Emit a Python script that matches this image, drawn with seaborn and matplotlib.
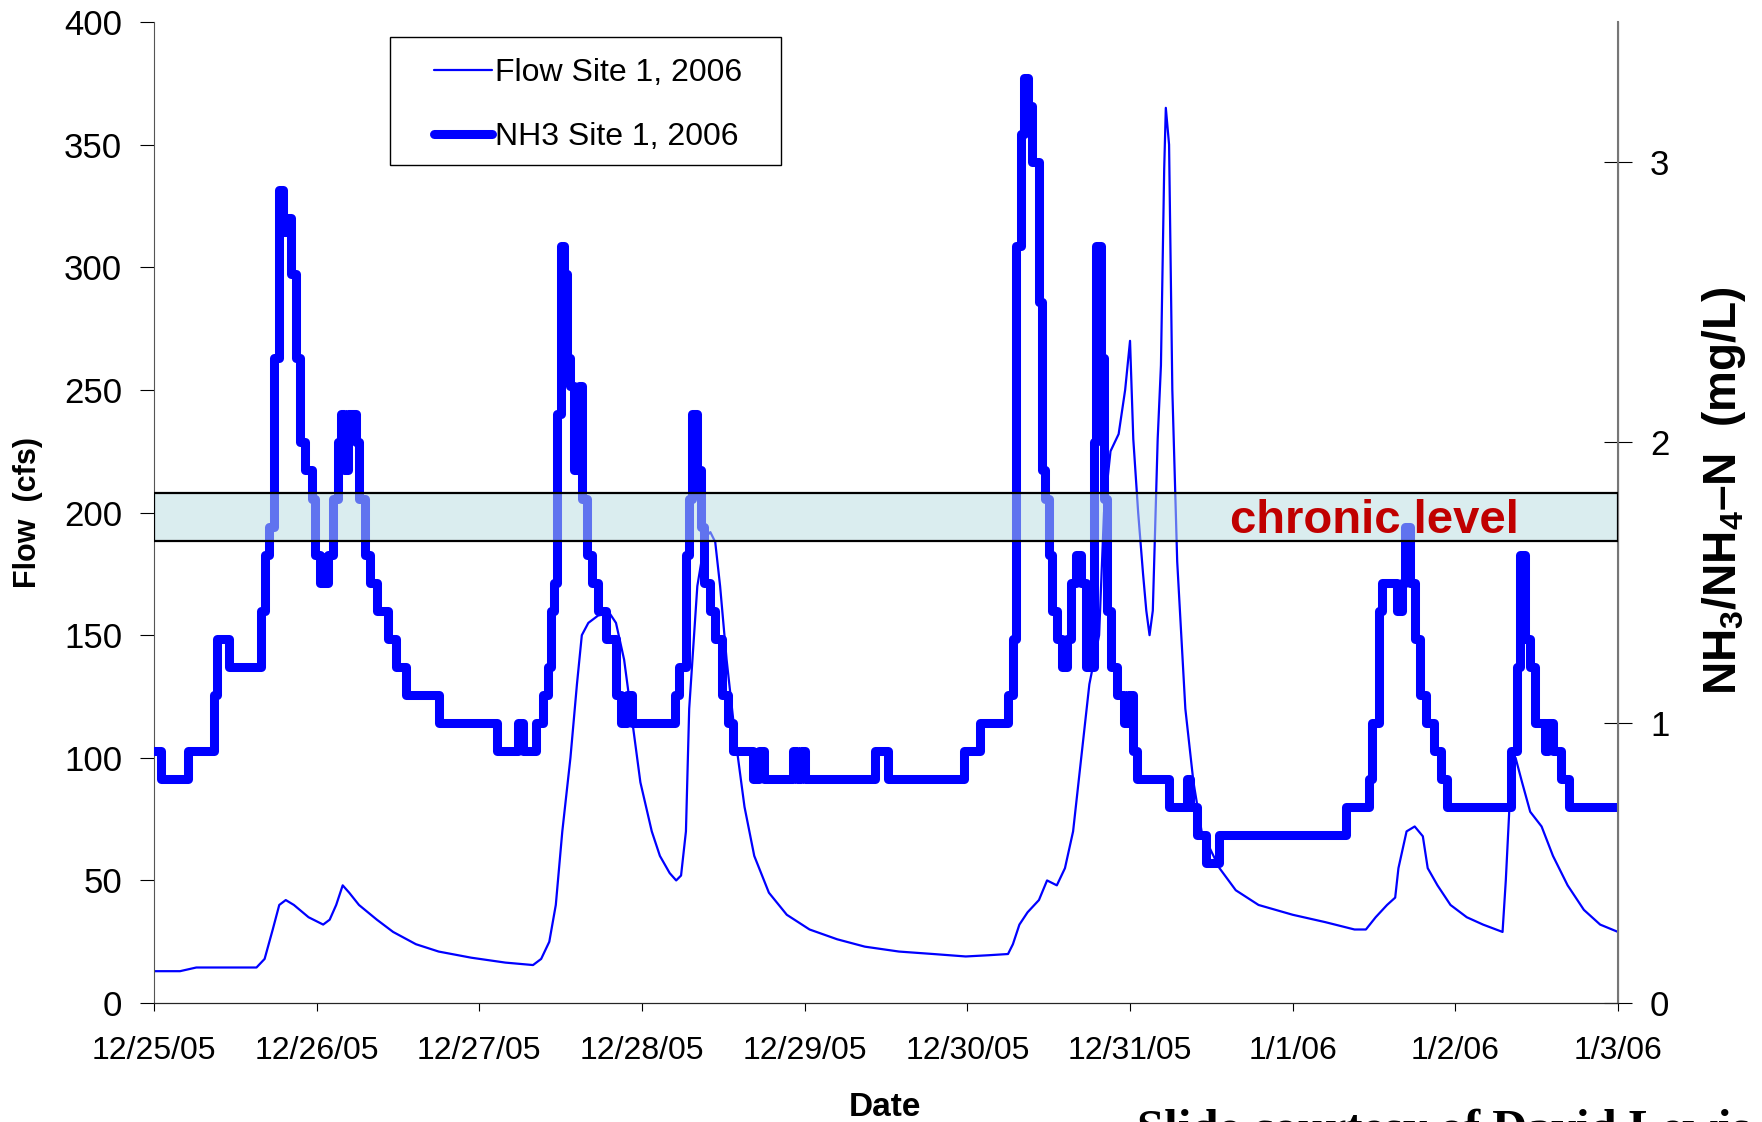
import pandas as pd
import matplotlib.pyplot as plt
import seaborn as sns
from matplotlib.patches import Rectangle

# days after 12/25/05 00:00
flow_day = [0.00, 0.16, 0.26, 0.63, 0.68, 0.73, 0.77, 0.81, 0.86, 0.95,
            1.04, 1.08, 1.12, 1.16, 1.20, 1.26, 1.37, 1.47, 1.61, 1.75,
            1.95, 2.16, 2.33, 2.38, 2.43, 2.47, 2.51, 2.56, 2.60, 2.63,
            2.67, 2.73, 2.80, 2.84, 2.89, 2.94, 2.99, 3.06, 3.11, 3.17,
            3.21, 3.24, 3.27, 3.29, 3.34, 3.39, 3.42, 3.45, 3.48, 3.52,
            3.57, 3.63, 3.69, 3.78, 3.89, 4.03, 4.20, 4.37, 4.58, 4.79,
            4.99, 5.13, 5.25, 5.28, 5.32, 5.37, 5.44, 5.49, 5.55, 5.60,
            5.65, 5.70, 5.75, 5.81, 5.84, 5.88, 5.93, 5.97, 6.00, 6.02,
            6.05, 6.08, 6.10, 6.12, 6.14, 6.17, 6.19, 6.21, 6.22, 6.24,
            6.26, 6.29, 6.34, 6.39, 6.44, 6.55, 6.65, 6.79, 7.00, 7.20,
            7.38, 7.45, 7.51, 7.58, 7.63, 7.65, 7.70, 7.75, 7.80, 7.83,
            7.89, 7.97, 8.07, 8.17, 8.29, 8.31, 8.34, 8.37, 8.41, 8.46,
            8.53, 8.60, 8.69, 8.79, 8.89, 9.00]
flow_cfs = [13, 13, 14.5, 14.5, 18, 30, 40, 42, 40, 35,
            32, 34, 40, 48, 45, 40, 34, 29, 24, 21,
            18.5, 16.5, 15.5, 18, 25, 40, 70, 100, 130, 150,
            155, 158, 159, 155, 140, 115, 90, 70, 60, 53,
            50, 52, 70, 120, 170, 190, 192, 188, 170, 140,
            110, 80, 60, 45, 36, 30, 26, 23, 21, 20,
            19, 19.5, 20, 24, 32, 37, 42, 50, 48, 55,
            70, 100, 130, 150, 200, 225, 232, 250, 270, 230,
            200, 175, 160, 150, 160, 230, 260, 340, 365, 350,
            250, 180, 120, 90, 70, 55, 46, 40, 36, 33,
            30, 30, 35, 40, 43, 55, 70, 72, 68, 55,
            48, 40, 35, 32, 29, 50, 90, 100, 90, 78,
            72, 60, 48, 38, 32, 29]

nh3_day = [0.00, 0.04, 0.21, 0.37, 0.39, 0.46, 0.66, 0.68, 0.71, 0.74,
           0.77, 0.79, 0.81, 0.84, 0.87, 0.90, 0.93, 0.97, 0.99, 1.02,
           1.07, 1.10, 1.13, 1.15, 1.17, 1.19, 1.24, 1.26, 1.30, 1.33,
           1.37, 1.44, 1.49, 1.55, 1.75, 2.11, 2.24, 2.27, 2.35, 2.39,
           2.42, 2.44, 2.46, 2.48, 2.50, 2.52, 2.54, 2.56, 2.58, 2.61,
           2.63, 2.66, 2.69, 2.73, 2.78, 2.84, 2.87, 2.91, 2.94, 3.20,
           3.23, 3.27, 3.29, 3.31, 3.34, 3.36, 3.38, 3.42, 3.45, 3.49,
           3.53, 3.56, 3.68, 3.72, 3.75, 3.93, 3.95, 3.98, 4.00, 4.43,
           4.51, 4.98, 5.08, 5.25, 5.28, 5.30, 5.33, 5.35, 5.37, 5.40,
           5.44, 5.46, 5.48, 5.50, 5.52, 5.55, 5.58, 5.61, 5.64, 5.67,
           5.70, 5.73, 5.78, 5.79, 5.82, 5.84, 5.86, 5.88, 5.92, 5.96,
           5.99, 6.02, 6.04, 6.24, 6.35, 6.37, 6.41, 6.47, 6.55, 7.33,
           7.47, 7.49, 7.53, 7.55, 7.64, 7.67, 7.69, 7.72, 7.75, 7.78,
           7.82, 7.87, 7.91, 7.95, 8.34, 8.38, 8.40, 8.43, 8.46, 8.49,
           8.55, 8.57, 8.60, 8.65, 8.70, 9.00]
nh3_mgl = [0.9, 0.8, 0.9, 1.1, 1.3, 1.2, 1.4, 1.6, 1.7, 2.3,
           2.9, 2.75, 2.8, 2.6, 2.3, 2.0, 1.9, 1.8, 1.6, 1.5,
           1.6, 1.8, 2.0, 2.1, 1.9, 2.1, 2.0, 1.8, 1.6, 1.5,
           1.4, 1.3, 1.2, 1.1, 1.0, 0.9, 1.0, 0.9, 1.0, 1.1,
           1.2, 1.4, 1.5, 2.1, 2.7, 2.6, 2.3, 2.2, 1.9, 2.2,
           1.8, 1.6, 1.5, 1.4, 1.3, 1.1, 1.0, 1.1, 1.0, 1.1,
           1.2, 1.6, 1.8, 2.1, 1.9, 1.7, 1.5, 1.4, 1.3, 1.1,
           1.0, 0.9, 0.8, 0.9, 0.8, 0.9, 0.8, 0.9, 0.8, 0.9,
           0.8, 0.9, 1.0, 1.1, 1.3, 2.7, 3.1, 3.3, 3.2, 3.0,
           2.5, 1.9, 1.8, 1.6, 1.4, 1.3, 1.2, 1.3, 1.5, 1.6,
           1.5, 1.2, 2.0, 2.7, 2.3, 1.8, 1.4, 1.2, 1.1, 1.0,
           1.1, 0.9, 0.8, 0.7, 0.8, 0.7, 0.6, 0.5, 0.6, 0.7,
           0.8, 1.0, 1.4, 1.5, 1.4, 1.5, 1.7, 1.5, 1.3, 1.1,
           1.0, 0.9, 0.8, 0.7, 0.9, 1.2, 1.6, 1.3, 1.2, 1.0,
           0.9, 1.0, 0.9, 0.8, 0.7, 0.7]

date_labels = ['12/25/05', '12/26/05', '12/27/05', '12/28/05', '12/29/05',
               '12/30/05', '12/31/05', '1/1/06', '1/2/06', '1/3/06']
series_labels = ['Flow Site 1, 2006', 'NH3 Site 1, 2006']
chronic_low, chronic_high = 1.65, 1.82

sns.set_style('ticks')
plt.rcParams['font.family'] = ['Liberation Sans', 'DejaVu Sans']
plt.rcParams['text.color'] = 'black'
plt.rcParams['axes.labelcolor'] = 'black'
plt.rcParams['xtick.color'] = 'black'
plt.rcParams['ytick.color'] = 'black'
plt.rcParams['mathtext.fontset'] = 'custom'
plt.rcParams['mathtext.rm'] = 'Liberation Sans:bold'
plt.rcParams['mathtext.default'] = 'rm'

flow = pd.DataFrame({'day': flow_day, 'flow': flow_cfs})
nh3 = pd.DataFrame({'day': nh3_day, 'nh3': nh3_mgl})

fig = plt.figure(figsize=(17.62, 11.22), dpi=100)
ax = fig.add_axes([0.0874, 0.106, 0.8309, 0.8744])
ax2 = ax.twinx()

sns.lineplot(data=flow, x='day', y='flow', ax=ax, color='#0000ff',
             lw=1.6, estimator=None)
sns.lineplot(data=nh3, x='day', y='nh3', ax=ax2, color='#0000ff',
             lw=6.5, drawstyle='steps-post', estimator=None)

# chronic band drawn over the lines, semi transparent
ax2.axhspan(chronic_low, chronic_high, facecolor=(185/255, 221/255, 226/255, 0.52),
            edgecolor='black', lw=1.6, zorder=5)
ax2.text(7.5, 1.677, 'chronic level', color='#C00000', fontsize=34,
         fontweight='bold', ha='center', va='baseline', zorder=6)

ax.set_xlim(0, 9)
ax.set_ylim(0, 400)
ax.set_yticks(range(0, 401, 50))
ax.set_xticks(range(10))
ax.set_xticklabels(date_labels)
ax2.set_ylim(0, 3.5)
ax2.set_yticks([0, 1, 2, 3])

ax.tick_params(axis='y', direction='out', length=10, labelsize=25, pad=13)
ax.tick_params(axis='x', direction='out', length=6, labelsize=23, pad=18)
ax2.tick_params(axis='y', direction='inout', length=20, labelsize=25, pad=13)

for a in (ax, ax2):
    a.spines['top'].set_visible(False)
ax.spines['left'].set_color('#555555')
ax2.spines['left'].set_visible(False)
ax2.spines['right'].set_color('#777777')
ax2.spines['right'].set_linewidth(1.5)
ax.spines['bottom'].set_color('black')

ax.set_ylabel('Flow  (cfs)', fontsize=22, fontweight='bold')
ax.yaxis.set_label_coords(-0.076, 0.5)
ax.set_xlabel('Date', fontsize=24, fontweight='bold')
ax.xaxis.set_label_coords(0.4993, -0.091)
ax2.set_ylabel(r'NH$_3$/NH$_4$–N  (mg/L)', fontsize=33, fontweight='bold')
ax2.yaxis.set_label_coords(1.056, 0.522)

# legend: frame drawn separately so the padding matches
ax2.add_patch(Rectangle((0.1612, 0.8542), 0.2671, 0.1305, transform=ax2.transAxes,
                        facecolor='white', edgecolor='black', lw=1.0, zorder=9))
handles = [ax.lines[0], ax2.lines[0]]
leg = ax2.legend(handles, series_labels, loc='center left',
                 bbox_to_anchor=(0.1913, 0.9153), fontsize=23, frameon=False,
                 borderpad=0, labelspacing=1.06, handlelength=1.8,
                 handletextpad=0.12, borderaxespad=0)
leg.set_zorder(10)

fig.text(0.6453, 0.0116, 'Slide courtesy of David Lewis',
         family=['Liberation Serif', 'DejaVu Serif'], fontweight='bold',
         fontsize=35, va='top', ha='left')

fig.savefig('out.png', dpi=100)
